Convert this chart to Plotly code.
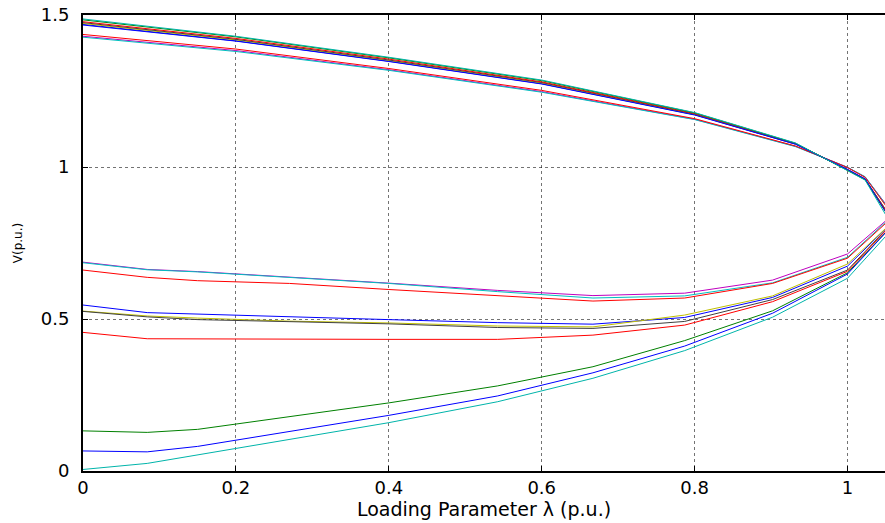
import plotly.graph_objects as go

# Loading parameter samples (p.u.)
lam_upper = [0, 0.2, 0.4, 0.6, 0.8, 0.932, 1.0, 1.023]
lam_nose = 1.06
lam_lower = [0, 0.084, 0.15, 0.27, 0.40, 0.5425, 0.667, 0.787, 0.902, 1.0]

bus_names = ["Bus A", "Bus B", "Bus C", "Bus D", "Bus E",
             "Bus F", "Bus G", "Bus H", "Bus I", "Bus J"]
bus_colors = ["rgb(191,0,191)", "rgb(0,191,191)", "rgb(255,0,0)", "rgb(0,0,255)",
              "rgb(191,191,0)", "rgb(64,64,64)", "rgb(255,0,0)", "rgb(0,128,0)",
              "rgb(0,0,255)", "rgb(0,180,170)"]

# Upper (stable) branch voltages, p.u.
v_upper = [
    [1.430, 1.383, 1.320, 1.248, 1.157, 1.068, 0.999, 0.967],
    [1.427, 1.380, 1.318, 1.246, 1.156, 1.067, 0.999, 0.968],
    [1.436, 1.388, 1.324, 1.252, 1.159, 1.069, 0.998, 0.966],
    [1.469, 1.415, 1.348, 1.274, 1.172, 1.075, 0.992, 0.960],
    [1.472, 1.418, 1.350, 1.276, 1.173, 1.076, 0.991, 0.960],
    [1.475, 1.420, 1.352, 1.278, 1.174, 1.077, 0.990, 0.959],
    [1.478, 1.423, 1.355, 1.280, 1.176, 1.077, 0.990, 0.959],
    [1.484, 1.428, 1.359, 1.284, 1.178, 1.078, 0.989, 0.958],
    [1.467, 1.414, 1.347, 1.273, 1.171, 1.075, 0.992, 0.961],
    [1.487, 1.430, 1.361, 1.286, 1.179, 1.079, 0.988, 0.957],
]

# Nose-point voltages, p.u.
v_nose = [0.845, 0.842, 0.838, 0.822, 0.822, 0.820, 0.818, 0.812, 0.812, 0.800]

# Lower (unstable) branch voltages, p.u.
v_lower = [
    [0.687, 0.663, 0.656, 0.637, 0.618, 0.594, 0.577, 0.585, 0.628, 0.714],
    [0.685, 0.662, 0.655, 0.636, 0.617, 0.590, 0.569, 0.576, 0.619, 0.703],
    [0.661, 0.637, 0.626, 0.617, 0.597, 0.576, 0.559, 0.569, 0.617, 0.700],
    [0.546, 0.521, 0.515, 0.508, 0.498, 0.488, 0.483, 0.505, 0.571, 0.674],
    [0.526, 0.510, 0.503, 0.493, 0.487, 0.477, 0.474, 0.513, 0.576, 0.681],
    [0.525, 0.507, 0.498, 0.490, 0.484, 0.472, 0.469, 0.492, 0.564, 0.661],
    [0.456, 0.435, 0.433, 0.433, 0.433, 0.433, 0.447, 0.480, 0.557, 0.657],
    [0.132, 0.127, 0.137, 0.180, 0.224, 0.280, 0.343, 0.429, 0.527, 0.652],
    [0.066, 0.063, 0.081, 0.130, 0.183, 0.247, 0.323, 0.411, 0.519, 0.648],
    [0.005, 0.025, 0.054, 0.104, 0.159, 0.228, 0.305, 0.396, 0.506, 0.634],
]

x_ticks = [0, 0.2, 0.4, 0.6, 0.8, 1]
x_ticklabels = ["0", "0.2", "0.4", "0.6", "0.8", "1"]
y_ticks = [0, 0.5, 1, 1.5]
y_ticklabels = ["0", "0.5", "1", "1.5"]

fig = go.Figure()
for name, col, up, nose, low in zip(bus_names, bus_colors, v_upper, v_nose, v_lower):
    xs = lam_upper + [lam_nose] + lam_lower[::-1]
    ys = up + [nose] + low[::-1]
    fig.add_trace(go.Scatter(x=xs, y=ys, mode="lines", name=name,
                             line=dict(color=col, width=1), showlegend=False))

font_family = "DejaVu Sans, Verdana, sans-serif"
fig.update_layout(
    width=885, height=523,
    margin=dict(l=83, r=0, t=15, b=52),
    paper_bgcolor="white", plot_bgcolor="white",
    font=dict(family=font_family, color="black", size=15),
)
fig.update_xaxes(
    range=[0, 1.049], tickvals=x_ticks, ticktext=x_ticklabels,
    showline=True, linecolor="black", linewidth=1.5, mirror="ticks",
    ticks="inside", ticklen=5, tickcolor="black",
    showgrid=True, gridcolor="rgba(0,0,0,0.55)", griddash="dot", gridwidth=1,
    zeroline=False, tickfont=dict(size=18), ticklabelstandoff=0,
    title=dict(text="Loading Parameter λ (p.u.)", font=dict(size=19), standoff=0),
    automargin=False,
)
fig.update_yaxes(
    range=[0, 1.5], tickvals=y_ticks, ticktext=y_ticklabels,
    showline=True, linecolor="black", linewidth=2,
    ticks="inside", ticklen=5, tickcolor="black",
    showgrid=True, gridcolor="rgba(0,0,0,0.55)", griddash="dot", gridwidth=1,
    zeroline=False, tickfont=dict(size=18), ticklabelstandoff=8,
    title=dict(text="V(p.u.)", font=dict(size=12), standoff=16),
    automargin=False,
)

fig.write_html("out.html",
               config={"displayModeBar": False},
               post_script="document.body.style.margin='0';document.body.style.padding='0';")
